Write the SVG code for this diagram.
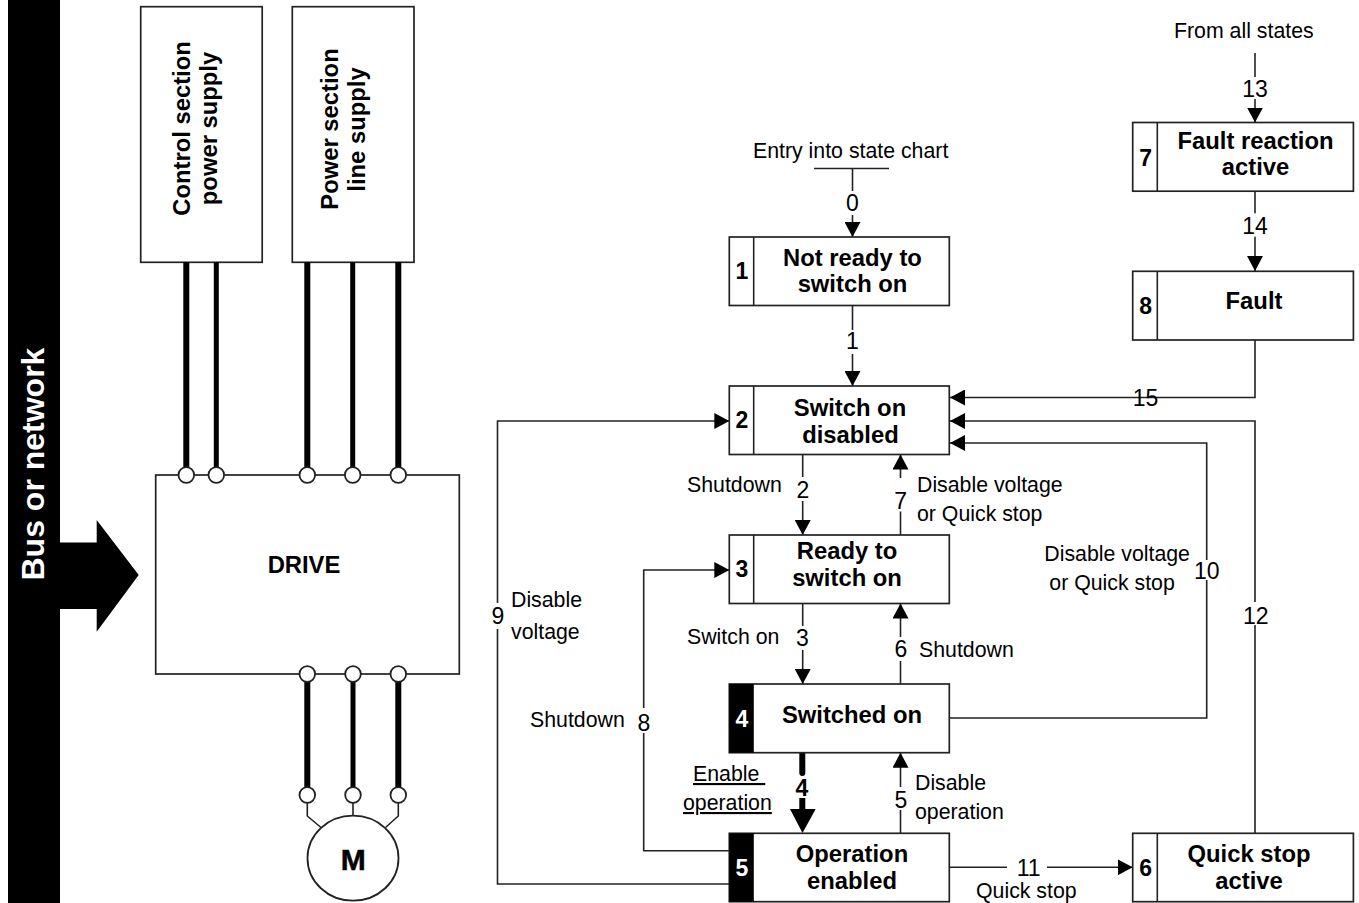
<svg xmlns="http://www.w3.org/2000/svg" width="1359" height="903" viewBox="0 0 1359 903">
<defs>
<marker id="a" markerUnits="userSpaceOnUse" markerWidth="16" markerHeight="16" refX="15" refY="8" orient="auto"><path d="M0 0L15 8L0 16Z" fill="#000"/></marker>
</defs>
<style>
text{font-family:"Liberation Sans",Arial,sans-serif;fill:#000}
.b{fill:#fff;stroke:#222;stroke-width:1.7}
.t{font-weight:bold;font-size:23.8px;text-anchor:middle}
.n{font-weight:bold;font-size:23px;text-anchor:middle}
.l{font-size:21.3px}
.m{font-size:23px;text-anchor:middle}
.c{fill:none;stroke:#222;stroke-width:1.6}
.ar{marker-end:url(#a)}
.w{fill:#fff;stroke:none}
.p{stroke:#000;stroke-width:6;fill:none}
.p2{stroke:#000;stroke-width:5;fill:none}
.o{fill:#fff;stroke:#222;stroke-width:1.8}
.d{stroke:#222;stroke-width:1.6}
</style>
<rect width="1359" height="903" fill="#fff"/>
<g id="bus">
<rect x="8" y="0" width="52" height="903" fill="#000"/>
<path d="M60 542.500H96.700V520L138.700 575L96.700 631.700V609H60Z" fill="#000"/>
<text transform="translate(44 580.500) rotate(-90)" font-size="32" font-weight="bold" style="fill:#fff">Bus or network</text>
</g>
<g id="control-supply">
<rect class="b" x="140.700" y="6.700" width="121.500" height="255.600"/>
<text transform="translate(190 128.500) rotate(-90)" class="t">Control section</text>
<text transform="translate(217 128.500) rotate(-90)" class="t">power supply</text>
</g>
<g id="power-supply">
<rect class="b" x="292.300" y="6.700" width="121.700" height="255.600"/>
<text transform="translate(338 129) rotate(-90)" class="t">Power section</text>
<text transform="translate(365 129.500) rotate(-90)" class="t">line supply</text>
</g>
<g id="wires">
<path class="p" d="M186.300 262V475"/><path class="p2" d="M216.300 262V475"/><path class="p" d="M307.300 262V475"/><path class="p2" d="M352.700 262V475"/><path class="p" d="M398.300 262V475"/>
<path class="p" d="M307.300 674V795"/><path class="p2" d="M353 674V795"/><path class="p" d="M398.300 674V795"/>
<path class="c" d="M307.300 795V816L321 827.500M353 795V816M398.300 795V816L385.500 827.500"/>
</g>
<g id="drive">
<rect class="b" x="155.700" y="475" width="303.600" height="199"/>
<text x="304" y="573" class="t">DRIVE</text>
<circle class="o" cx="186.300" cy="475" r="7.800"/><circle class="o" cx="216.300" cy="475" r="7.800"/><circle class="o" cx="307.300" cy="475" r="7.800"/><circle class="o" cx="352.700" cy="475" r="7.800"/><circle class="o" cx="398.300" cy="475" r="7.800"/>
<circle class="o" cx="307.300" cy="674" r="7.800"/><circle class="o" cx="353" cy="674" r="7.800"/><circle class="o" cx="398.300" cy="674" r="7.800"/>
</g>
<g id="motor">
<circle class="o" cx="307.300" cy="795" r="7.800"/><circle class="o" cx="353" cy="795" r="7.800"/><circle class="o" cx="398.300" cy="795" r="7.800"/>
<ellipse class="o" cx="353" cy="858.200" rx="45.500" ry="42.500"/>
<text x="353.300" y="870" font-size="30" font-weight="bold" text-anchor="middle" stroke="#000" stroke-width=".5">M</text>
</g>
<g id="connectors">
<path class="d" d="M814 168.500H889"/>
<path class="c ar" d="M852.500 168.500V237"/>
<path class="c ar" d="M852.500 305V386"/>
<path class="c ar" d="M802.700 454.500V535"/>
<path class="c ar" d="M900.500 535V454.500"/>
<path class="c ar" d="M802.700 603.500V684"/>
<path class="c ar" d="M900.500 684V603.500"/>
<path d="M802.300 753V773" stroke="#000" stroke-width="6" stroke-linecap="round" fill="none"/>
<path d="M802.300 798V810" stroke="#000" stroke-width="6" fill="none"/>
<path d="M790 809H815.700L802.500 833Z" fill="#000"/>
<path class="c ar" d="M900.500 833V752.700"/>
<path class="c ar" d="M729.300 884H497.500V421H729.300"/>
<path class="c ar" d="M729.300 850.700H643.700V570H729.300"/>
<path class="c ar" d="M949.500 867.300H1132.700"/>
<path class="c ar" d="M949.500 718H1206.700V443H950"/>
<path class="c ar" d="M1255 833V421H950"/>
<path class="c ar" d="M1255 340V397.500H950"/>
<path class="c ar" d="M1255 53V122.500"/>
<path class="c ar" d="M1255 191V271"/>
</g>
<g id="edge-labels">
<rect class="w" x="842" y="191" width="22" height="24"/><text x="852.500" y="211" class="m">0</text>
<rect class="w" x="842" y="330" width="22" height="24"/><text x="852.500" y="349" class="m">1</text>
<rect class="w" x="792" y="477" width="22" height="24"/><text x="803" y="497.500" class="m">2</text>
<rect class="w" x="890" y="478" width="22" height="33.500"/><text x="900.700" y="509" class="m">7</text>
<rect class="w" x="792" y="626" width="22" height="24"/><text x="802.500" y="646" class="m">3</text>
<rect class="w" x="890" y="637" width="22" height="24"/><text x="901" y="657" class="m">6</text>
<text x="802" y="795.500" class="n">4</text>
<rect class="w" x="890" y="787" width="22" height="23"/><text x="901" y="807.500" class="m">5</text>
<rect class="w" x="488" y="603" width="20" height="26"/><text x="498" y="624" class="m">9</text>
<rect class="w" x="634" y="708" width="20" height="25"/><text x="644" y="731" class="m">8</text>
<rect class="w" x="1007" y="855" width="40" height="24"/><text x="1028.700" y="876" class="m">11</text>
<rect class="w" x="1192" y="560" width="30" height="20"/><text x="1206.700" y="579" class="m">10</text>
<rect class="w" x="1240" y="602" width="30" height="23"/><text x="1255.700" y="624" class="m">12</text>
<rect class="w" x="1240" y="77" width="30" height="22"/><text x="1255" y="96.700" class="m">13</text>
<rect class="w" x="1240" y="213.300" width="30" height="23.400"/><text x="1255" y="234" class="m">14</text>
<text x="1145.500" y="406" class="m">15</text>
<text x="753" y="158" class="l">Entry into state chart</text>
<text x="1174" y="38" class="l">From all states</text>
<text x="687" y="492" class="l">Shutdown</text>
<text x="917" y="492" class="l">Disable voltage</text>
<text x="917" y="521" class="l">or Quick stop</text>
<text x="1044.300" y="561" class="l">Disable voltage</text>
<text x="1049.300" y="590" class="l">or Quick stop</text>
<text x="687" y="644" class="l">Switch on</text>
<text x="919" y="657" class="l">Shutdown</text>
<text x="511" y="607" class="l">Disable</text>
<text x="511" y="639" class="l">voltage</text>
<text x="530" y="727" class="l">Shutdown</text>
<text x="693" y="781" class="l" text-decoration="underline">Enable&#160;</text>
<text x="683" y="810" class="l" text-decoration="underline">operation</text>
<text x="915" y="790" class="l">Disable</text>
<text x="915" y="819" class="l">operation</text>
<text x="976" y="898" class="l">Quick stop</text>
</g>
<g id="state-1"><rect class="b" x="729.300" y="237" width="220" height="68.500"/><path class="d" d="M753.700 237V305.500"/><text x="742" y="279" class="n">1</text><text x="852.500" y="266" class="t">Not ready to</text><text x="852.500" y="292" class="t">switch on</text></g>
<g id="state-2"><rect class="b" x="729.300" y="386" width="220" height="68.500"/><path class="d" d="M753.700 386V454.500"/><text x="742" y="428" class="n">2</text><text x="850" y="415.500" class="t">Switch on</text><text x="850.500" y="442.500" class="t">disabled</text></g>
<g id="state-3"><rect class="b" x="729.300" y="535" width="220" height="68.500"/><path class="d" d="M753.700 535V603.500"/><text x="742" y="577" class="n">3</text><text x="847" y="558.500" class="t">Ready to</text><text x="847" y="586" class="t">switch on</text></g>
<g id="state-4"><rect class="b" x="729.300" y="684" width="220" height="68.700"/><rect x="729.300" y="684" width="24.500" height="68.700" fill="#000"/><text x="742" y="727" class="n" style="fill:#fff">4</text><text x="852" y="722.700" class="t">Switched on</text></g>
<g id="state-5"><rect class="b" x="729.300" y="833.300" width="220" height="68.400"/><rect x="729.300" y="833.300" width="24.500" height="68.400" fill="#000"/><text x="742" y="876" class="n" style="fill:#fff">5</text><text x="852" y="861.700" class="t">Operation</text><text x="852" y="888.500" class="t">enabled</text></g>
<g id="state-6"><rect class="b" x="1132.700" y="833.300" width="220.700" height="68.400"/><path class="d" d="M1157.300 833.300V901.700"/><text x="1145.700" y="876" class="n">6</text><text x="1249" y="861.700" class="t">Quick stop</text><text x="1249" y="888.500" class="t">active</text></g>
<g id="state-7"><rect class="b" x="1132.700" y="122.500" width="220.700" height="68.700"/><path class="d" d="M1157.300 122.500V191.200"/><text x="1145.700" y="165.700" class="n">7</text><text x="1255.500" y="149" class="t">Fault reaction</text><text x="1255.500" y="175" class="t">active</text></g>
<g id="state-8"><rect class="b" x="1132.700" y="271.300" width="220.700" height="68.700"/><path class="d" d="M1157.300 271.300V340"/><text x="1145.700" y="314" class="n">8</text><text x="1254" y="309" class="t">Fault</text></g>
</svg>
